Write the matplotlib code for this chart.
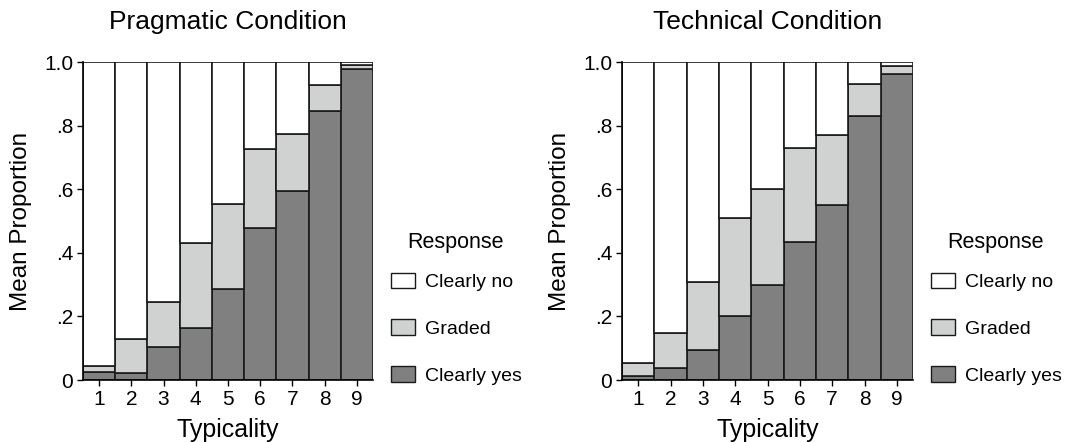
import numpy as np
import matplotlib.pyplot as plt

plt.rcParams['font.family'] = ['Liberation Sans', 'DejaVu Sans']

typicality = [1, 2, 3, 4, 5, 6, 7, 8, 9]
responses = ["Clearly no", "Graded", "Clearly yes"]

# mean proportions
prag_yes = [0.026, 0.022, 0.105, 0.162, 0.287, 0.479, 0.595, 0.846, 0.979]
prag_graded = [0.019, 0.108, 0.139, 0.269, 0.268, 0.246, 0.179, 0.083, 0.011]
tech_yes = [0.013, 0.037, 0.094, 0.202, 0.300, 0.435, 0.550, 0.829, 0.961]
tech_graded = [0.042, 0.110, 0.215, 0.308, 0.300, 0.296, 0.219, 0.102, 0.026]

colors = {"Clearly no": "white", "Graded": "#d0d2d2", "Clearly yes": "#808080"}
edge = "#1a1a1a"

fig = plt.figure(figsize=(10.67, 4.42), dpi=100)
ax1 = fig.add_axes([83 / 1067, 1 - 380 / 442, 290 / 1067, 318 / 442])
ax2 = fig.add_axes([622 / 1067, 1 - 380 / 442, 291 / 1067, 318 / 442])


def draw(ax, yes, graded, title):
    x = np.array(typicality)
    yes = np.array(yes)
    graded = np.array(graded)
    no = 1 - yes - graded
    ax.bar(x, yes, width=1.0, color=colors["Clearly yes"], edgecolor=edge, lw=1.2)
    ax.bar(x, graded, bottom=yes, width=1.0, color=colors["Graded"], edgecolor=edge, lw=1.2)
    ax.bar(x, no, bottom=yes + graded, width=1.0, color=colors["Clearly no"], edgecolor=edge, lw=1.2)
    ax.set_xlim(0.5, 9.5)
    ax.set_ylim(0, 1.0)
    ax.set_xticks(x)
    ax.set_xticklabels([str(t) for t in typicality], fontsize=15)
    ax.set_yticks([0, 0.2, 0.4, 0.6, 0.8, 1.0])
    ax.set_yticklabels(["0", ".2", ".4", ".6", ".8", "1.0"], fontsize=15)
    ax.spines["top"].set_visible(False)
    ax.spines["right"].set_visible(False)
    ax.spines["left"].set_linewidth(1.2)
    ax.spines["bottom"].set_linewidth(1.2)
    ax.tick_params(length=4, width=1, pad=3)
    ax.set_xlabel("Typicality", fontsize=18, labelpad=7)
    ax.set_ylabel("Mean Proportion", fontsize=17.5, labelpad=9)
    ax.set_title(title, fontsize=19, pad=24)

    handles = [plt.Rectangle((0, 0), 1, 1, facecolor=colors[r], edgecolor=edge, lw=1.0)
               for r in responses]
    leg = ax.legend(handles, responses, title="Response", loc="center left",
                    bbox_to_anchor=(1.0, 0.225), frameon=False, fontsize=14,
                    title_fontsize=15.5, labelspacing=1.45, handlelength=1.25,
                    handleheight=0.85, handletextpad=0.5)
    leg._legend_box.align = "center"
    leg._legend_box.sep = 14


draw(ax1, prag_yes, prag_graded, "Pragmatic Condition")
draw(ax2, tech_yes, tech_graded, "Technical Condition")

fig.savefig("out.png", dpi=100)
